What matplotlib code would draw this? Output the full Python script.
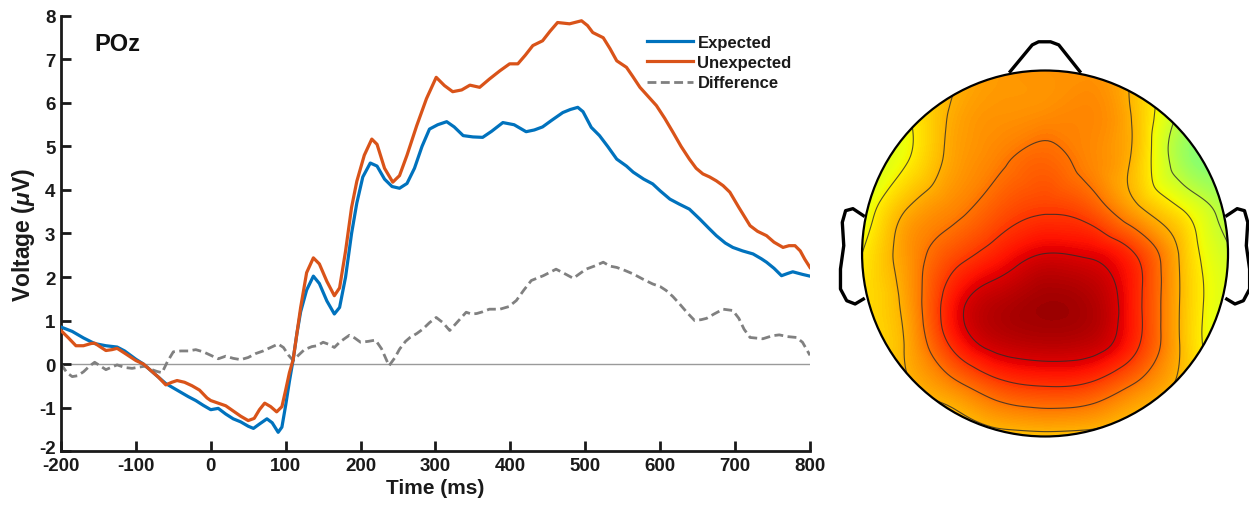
import numpy as np
import matplotlib
matplotlib.use("Agg")
import matplotlib.pyplot as plt
import matplotlib.tri as mtri
import matplotlib.transforms as mtrans
from matplotlib.patches import Circle

plt.rcParams['font.family'] = ['Liberation Sans', 'DejaVu Sans']
plt.rcParams['mathtext.fontset'] = 'custom'
plt.rcParams['mathtext.it'] = 'Liberation Sans:italic:bold'
plt.rcParams['mathtext.rm'] = 'Liberation Sans:bold'
plt.rcParams['axes.unicode_minus'] = False

# ---------------- ERP data ----------------
exp_t = [-200, -185, -170, -155, -140, -125, -115, -100, -90, -80, -70, -60, -50, -40, -30,
         -20, -10, 0, 10, 20, 30, 40, 50, 57, 65, 75, 82, 90, 95, 100, 105, 110, 115, 120,
         128, 137, 145, 155, 165, 172, 180, 188, 195, 203, 213, 222, 232, 242, 252, 262,
         272, 282, 292, 303, 315, 325, 337, 350, 363, 375, 390, 405, 421, 432, 443, 455,
         470, 480, 490, 497, 508, 519, 530, 542, 555, 564, 578, 590, 600, 613, 625, 639,
         653, 665, 675, 687, 697, 710, 724, 735, 742, 752, 762, 770, 777, 790, 800]
exp_v = [0.85, 0.75, 0.60, 0.47, 0.42, 0.39, 0.30, 0.11, 0.00, -0.15, -0.30, -0.45, -0.55,
         -0.65, -0.75, -0.84, -0.95, -1.05, -1.02, -1.15, -1.26, -1.33, -1.43, -1.48, -1.38,
         -1.26, -1.35, -1.57, -1.45, -0.95, -0.40, 0.10, 0.70, 1.20, 1.70, 2.02, 1.85, 1.45,
         1.15, 1.30, 2.00, 3.00, 3.70, 4.30, 4.62, 4.55, 4.25, 4.08, 4.04, 4.15, 4.50, 5.00,
         5.40, 5.50, 5.57, 5.45, 5.25, 5.22, 5.21, 5.35, 5.55, 5.50, 5.34, 5.38, 5.45, 5.60,
         5.78, 5.85, 5.90, 5.80, 5.44, 5.25, 5.00, 4.71, 4.55, 4.41, 4.25, 4.14, 3.98, 3.79,
         3.68, 3.56, 3.33, 3.12, 2.95, 2.78, 2.68, 2.60, 2.53, 2.42, 2.34, 2.20, 2.03, 2.08,
         2.12, 2.06, 2.02]

unexp_t = [-200, -190, -180, -170, -160, -155, -148, -140, -132, -125, -115, -100, -90, -80,
           -70, -60, -52, -45, -35, -25, -15, -5, 0, 10, 20, 30, 40, 50, 58, 65, 72, 80, 88,
           95, 100, 105, 110, 115, 120, 128, 137, 145, 155, 165, 172, 180, 188, 195, 205, 215,
           222, 232, 243, 252, 262, 275, 288, 301, 312, 323, 335, 346, 359, 372, 386, 399, 410,
           420, 430, 443, 453, 463, 479, 495, 503, 510, 524, 533, 542, 555, 563, 573, 584, 595,
           606, 617, 628, 639, 648, 657, 666, 675, 684, 693, 705, 720, 730, 742, 752, 764, 772,
           780, 787, 793, 800]
unexp_v = [0.77, 0.60, 0.42, 0.42, 0.47, 0.48, 0.40, 0.31, 0.33, 0.36, 0.25, 0.08, 0.00,
           -0.15, -0.30, -0.48, -0.42, -0.38, -0.42, -0.50, -0.60, -0.78, -0.84, -0.90, -0.96,
           -1.08, -1.20, -1.30, -1.25, -1.05, -0.90, -0.98, -1.10, -0.98, -0.60, -0.20, 0.10,
           0.70, 1.30, 2.10, 2.44, 2.30, 1.90, 1.57, 1.75, 2.60, 3.60, 4.20, 4.80, 5.17, 5.05,
           4.50, 4.18, 4.33, 4.80, 5.48, 6.10, 6.59, 6.40, 6.26, 6.30, 6.41, 6.36, 6.55, 6.74,
           6.90, 6.90, 7.10, 7.32, 7.43, 7.65, 7.85, 7.82, 7.89, 7.78, 7.62, 7.50, 7.25, 6.97,
           6.82, 6.62, 6.36, 6.15, 5.94, 5.65, 5.33, 5.00, 4.71, 4.50, 4.37, 4.30, 4.21, 4.10,
           3.95, 3.60, 3.18, 3.05, 2.95, 2.80, 2.68, 2.72, 2.72, 2.60, 2.41, 2.22]

diff_t = [-200, -192, -185, -178, -170, -162, -155, -147, -140, -132, -125, -115, -105, -95,
          -88, -80, -72, -65, -58, -50, -40, -30, -20, -10, 0, 10, 20, 30, 40, 50, 60, 70, 80,
          90, 97, 104, 110, 117, 125, 135, 142, 150, 158, 165, 172, 180, 185, 192, 200, 210,
          220, 228, 238, 246, 252, 260, 266, 275, 283, 292, 301, 310, 319, 330, 341, 348, 355,
          363, 372, 386, 398, 408, 418, 428, 444, 452, 461, 470, 484, 492, 501, 512, 524, 533,
          542, 553, 564, 577, 590, 600, 608, 617, 626, 636, 646, 655, 662, 672, 684, 697, 705,
          712, 720, 737, 750, 759, 770, 782, 790, 800]
diff_v = [0.00, -0.20, -0.29, -0.27, -0.18, -0.05, 0.04, -0.05, -0.13, -0.07, -0.02, -0.08,
          -0.10, -0.07, -0.05, -0.12, -0.17, -0.20, 0.05, 0.28, 0.30, 0.30, 0.33, 0.28, 0.20,
          0.12, 0.18, 0.13, 0.10, 0.15, 0.24, 0.30, 0.38, 0.46, 0.38, 0.20, 0.08, 0.20, 0.33,
          0.40, 0.42, 0.50, 0.45, 0.38, 0.50, 0.60, 0.66, 0.60, 0.50, 0.52, 0.55, 0.35, -0.04,
          0.15, 0.34, 0.52, 0.61, 0.70, 0.80, 0.95, 1.07, 0.95, 0.77, 0.98, 1.19, 1.15, 1.16,
          1.20, 1.26, 1.26, 1.32, 1.46, 1.70, 1.92, 2.03, 2.10, 2.18, 2.10, 1.97, 2.07, 2.18,
          2.25, 2.34, 2.25, 2.22, 2.15, 2.07, 1.95, 1.84, 1.78, 1.69, 1.55, 1.38, 1.18, 1.00,
          1.02, 1.05, 1.15, 1.26, 1.23, 1.05, 0.80, 0.61, 0.58, 0.65, 0.67, 0.63, 0.61, 0.50,
          0.20]

series_labels = ["Expected", "Unexpected", "Difference"]
x_ticks = [-200, -100, 0, 100, 200, 300, 400, 500, 600, 700, 800]
y_ticks = [-2, -1, 0, 1, 2, 3, 4, 5, 6, 7, 8]
channel_name = "POz"

# ---------------- scalp map data (values read on a grid over the head) ----------------
grid_x = [-1.0, -0.75, -0.5, -0.25, 0.0, 0.25, 0.5, 0.75, 1.0]
grid_y = [1.0, 0.75, 0.5, 0.25, 0.0, -0.25, -0.5, -0.75, -1.0]
scalp_values = [
    [1.20, 1.80, 2.40, 2.80, 2.90, 2.90, 2.40, 1.20, 0.30],
    [1.20, 1.70, 2.60, 2.90, 3.00, 3.05, 2.35, 0.80, 0.20],
    [1.10, 1.75, 2.70, 3.15, 3.45, 3.05, 2.30, 0.55, 0.30],
    [1.30, 2.50, 3.05, 3.60, 3.90, 3.60, 2.60, 1.70, 0.60],
    [1.75, 2.85, 3.70, 4.30, 4.75, 4.65, 3.95, 2.35, 1.10],
    [2.00, 2.75, 4.40, 5.10, 5.35, 5.20, 4.20, 2.40, 1.30],
    [2.10, 2.60, 4.15, 4.95, 5.10, 5.00, 4.10, 2.40, 1.20],
    [2.20, 2.40, 2.90, 3.60, 3.85, 3.70, 3.00, 2.30, 1.50],
    [1.90, 2.00, 2.20, 2.30, 2.35, 2.30, 2.20, 2.00, 1.60],
]
clim = (-5.7, 5.7)
contour_levels = [1.0, 1.75, 2.5, 3.25, 4.0, 4.75]

# ---------------- figure ----------------
fig = plt.figure(figsize=(12.49, 5.10), dpi=100)

ax = fig.add_axes([0.0488, 0.1137, 0.5997, 0.853])
ax.axhline(0, color='#9a9a9a', lw=1.0, zorder=1)
ax.plot(exp_t, exp_v, color='#0072BD', lw=2.3, label=series_labels[0], zorder=3)
ax.plot(unexp_t, unexp_v, color='#D95319', lw=2.3, label=series_labels[1], zorder=3)
ax.plot(diff_t, diff_v, color='#808080', lw=2.0, dashes=(3.2, 1.6), label=series_labels[2], zorder=2)

ax.set_xlim(-200, 800)
ax.set_ylim(-2, 8)
ax.set_xticks(x_ticks)
ax.set_yticks(y_ticks)
for s in ['top', 'right']:
    ax.spines[s].set_visible(False)
for s in ['left', 'bottom']:
    ax.spines[s].set_linewidth(2.0)
    ax.spines[s].set_color('#1a1a1a')
ax.tick_params(direction='in', length=7, width=2.0, labelsize=13.5, color='#1a1a1a',
               labelcolor='#1a1a1a', pad=4)
for lab in ax.get_xticklabels() + ax.get_yticklabels():
    lab.set_fontweight('bold')
# lift the lowest y tick label a little, as in the reference
ylabs = ax.get_yticklabels()
ylabs[0].set_transform(ylabs[0].get_transform() +
                       mtrans.ScaledTranslation(0, 5 / 100, fig.dpi_scale_trans))
ax.set_xlabel('Time (ms)', fontsize=15, fontweight='bold', labelpad=3, color='#1a1a1a')
ax.set_ylabel(r'Voltage ($\mu$V)', fontsize=16.5, fontweight='bold', labelpad=1.5, color='#1a1a1a')
ax.text(-156, 7.37, channel_name, fontsize=17, fontweight='bold', va='center', ha='left',
        color='#111111')

leg = ax.legend(loc='upper left', bbox_to_anchor=(0.783, 0.957), frameon=False,
                fontsize=12, handlelength=2.75, handletextpad=0.25, labelspacing=0.32,
                borderpad=0, borderaxespad=0)
for t in leg.get_texts():
    t.set_fontweight('bold')
    t.set_color('#1a1a1a')

# ---------------- scalp map ----------------
hx = fig.add_axes([0.6609, 0.0704, 0.3516, 0.8612])
hx.set_xlim(-1.2, 1.2)
hx.set_ylim(-1.2, 1.2)
hx.set_aspect('equal')
hx.axis('off')

gx, gy = np.meshgrid(grid_x, grid_y)
z = np.array(scalp_values).ravel()
tri = mtri.Triangulation(gx.ravel(), gy.ravel())
refiner = mtri.UniformTriRefiner(tri)
tri_f, z_f = refiner.refine_field(z, triinterpolator=mtri.CubicTriInterpolator(tri, z),
                                  subdiv=4)
clip = Circle((0, 0), 1.0, transform=hx.transData)
cf = hx.tricontourf(tri_f, z_f, levels=np.linspace(clim[0], clim[1], 241), cmap='jet',
                    vmin=clim[0], vmax=clim[1], zorder=1)
cf.set_clip_path(clip)
cl = hx.tricontour(tri_f, z_f, levels=contour_levels, colors='#2b2b2b', linewidths=0.8,
                   alpha=0.8, zorder=2)
cl.set_clip_path(clip)

hx.add_patch(Circle((0, 0), 1.0, fill=False, ec='black', lw=1.6, zorder=4))
nose_x = [-0.19, -0.07, -0.035, 0.03, 0.075, 0.19]
nose_y = [0.995, 1.14, 1.157, 1.157, 1.14, 0.995]
hx.plot(nose_x, nose_y, color='black', lw=2.4, zorder=4, solid_joinstyle='round')
ear_x = [0.993, 1.050, 1.090, 1.108, 1.100, 1.118, 1.118, 1.084, 1.038, 0.993]
ear_y = [0.207, 0.245, 0.234, 0.170, 0.043, -0.085, -0.194, -0.258, -0.276, -0.249]
hx.plot([-v for v in ear_x], ear_y, color='black', lw=2.4, zorder=4, solid_joinstyle='round')
hx.plot(ear_x, ear_y, color='black', lw=2.4, zorder=4, solid_joinstyle='round')

fig.savefig('out.png', dpi=100)
